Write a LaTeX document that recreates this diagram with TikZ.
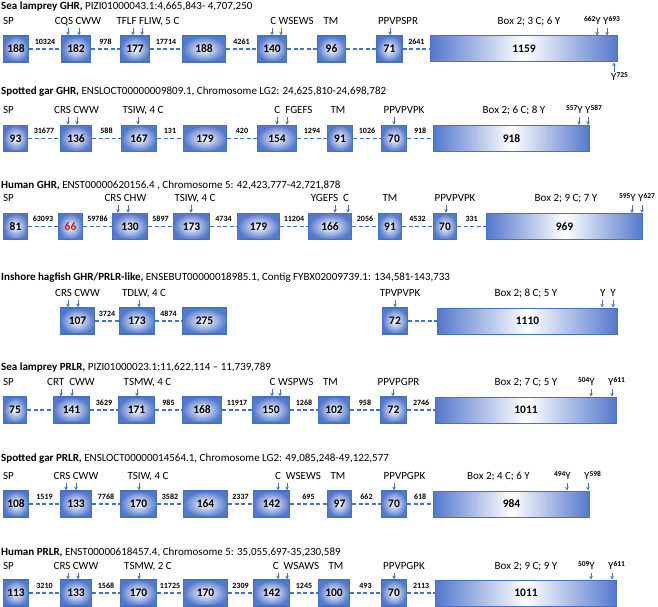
\documentclass[tikz,border=0pt]{standalone}
\usepackage{fontspec}
\setmainfont{Carlito}
\usetikzlibrary{arrows.meta}
\usetikzlibrary{positioning}
\definecolor{exblue}{RGB}{68,114,196}
\definecolor{exfill}{RGB}{84,120,204}
\newcommand{\ypos}[1]{\raisebox{3pt}{\fontsize{7.5}{8}\selectfont\bfseries #1}}

\begin{document}
\begin{tikzpicture}
  [x=1pt,y=-1pt,
  exon/.style={rectangle,draw=exblue,line width=1.5pt,inner color=white,outer color=exfill,minimum height=26,inner sep=0pt,font=\fontsize{11.5}{12}\selectfont\bfseries},
  bigexon/.style={rectangle,draw=exblue,line width=1pt,left color=exfill,right color=exfill,middle color=white,minimum height=26,inner sep=0pt,font=\fontsize{11.5}{12}\selectfont\bfseries},
  intron/.style={exblue,line width=1.3pt,dash pattern=on 4pt off 2.5pt},
  num/.style={above=4pt,inner sep=0pt,text=black,font=\fontsize{8}{8}\selectfont\bfseries},
  feat/.style={inner sep=0pt,text height=7pt,text depth=2pt,font=\fontsize{11}{12}\selectfont},
  title/.style={anchor=west,inner sep=0pt,text height=8pt,text depth=2pt,font=\fontsize{11}{12}\selectfont},
  pin/.style={exblue,line width=1pt,-{Stealth[length=3.5pt,width=3.5pt]}}]
  \useasboundingbox (0,0) rectangle (658,607);

  % Sea lamprey GHR
  \node[title] (t1) at (1,7) {\textbf{Sea lamprey GHR,} PIZI01000043.1:4,665,843- 4,707,250};
  \node[exon,minimum width=25] (11) at (16,49) {188};
  \node[exon,minimum width=29] (12) at (76,49) {182};
  \node[exon,minimum width=29] (13) at (135,49) {177};
  \node[exon,minimum width=43] (14) at (204,49) {188};
  \node[exon,minimum width=29] (15) at (272,49) {140};
  \node[exon,minimum width=28] (16) at (331.5,49) {96};
  \node[exon,minimum width=25] (17) at (389.5,49) {71};
  \node[bigexon,minimum width=187] (18) at (524,49) {1159};

  \node[feat,anchor=west] (f11) at (3,22) {SP};
  \node[feat] (f12) at (78,22) {CQS CWW};
  \node[feat] (f13) at (148,22) {TFLF FLIW, 5 C};
  \node[feat] (f15) at (292,22) {C WSEWS};
  \node[feat] (f16) at (331,22) {TM};
  \node[feat] (f17) at (398,22) {PPVPSPR};
  \node[feat] (f18) at (529,22) {Box 2; 3 C; 6 Y};
  \node[feat,anchor=east] (y18a) at (601,22) {\ypos{662}Y};
  \node[feat,anchor=west] (y18b) at (603,22) {Y\ypos{693}};
  \node[feat,anchor=west] (y18c) at (611,78) {Y\ypos{725}};

  \coordinate (a12) at (68,28); \coordinate (b12) at (79,28);
  \coordinate (a13) at (133,28); \coordinate (b13) at (142,28);
  \coordinate (a15) at (272,28); \coordinate (b15) at (281,28);
  \coordinate (a17) at (390,28);
  \coordinate (a18) at (597,28); \coordinate (b18) at (607,28);
  \coordinate (c18) at (614,72);
  \draw[pin] (a12) -- (a12 |- 12.north);
  \draw[pin] (b12) -- (b12 |- 12.north);
  \draw[pin] (a13) -- (a13 |- 13.north);
  \draw[pin] (b13) -- (b13 |- 13.north);
  \draw[pin] (a15) -- (a15 |- 15.north);
  \draw[pin] (b15) -- (b15 |- 15.north);
  \draw[pin] (a17) -- (a17 |- 17.north);
  \draw[pin] (a18) -- (a18 |- 18.north);
  \draw[pin] (b18) -- (b18 |- 18.north);
  \draw[pin] (c18) -- (c18 |- 18.south);

  \draw[intron] (11) -- node[num] (n11) {10324} (12);
  \draw[intron] (12) -- node[num] (n12) {978} (13);
  \draw[intron] (13) -- node[num] (n13) {17714} (14);
  \draw[intron] (14) -- node[num] (n14) {4261} (15);
  \draw[intron] (15) -- (16);
  \draw[intron] (16) -- (17);
  \draw[intron] (17) -- node[num] (n17) {2641} (18);

  % Spotted gar GHR
  \node[title] (t2) at (1,92) {\textbf{Spotted gar GHR,} ENSLOCT00000009809.1, Chromosome LG2: 24,625,810-24,698,782};
  \node[exon,minimum width=24] (21) at (15.5,138.5) {93};
  \node[exon,minimum width=31] (22) at (76,138.5) {136};
  \node[exon,minimum width=35] (23) at (139,138.5) {167};
  \node[exon,minimum width=43] (24) at (205,138.5) {179};
  \node[exon,minimum width=39] (25) at (277,138.5) {154};
  \node[exon,minimum width=25] (26) at (340,138.5) {91};
  \node[exon,minimum width=25] (27) at (394,138.5) {70};
  \node[bigexon,minimum width=156] (28) at (511.5,138.5) {918};

  \node[feat,anchor=west] (f21) at (3,111) {SP};
  \node[feat] (f22) at (76.5,111) {CRS CWW};
  \node[feat] (f23) at (143,111) {TSIW, 4 C};
  \node[feat] (f25) at (293.5,111) {C~~FGEFS};
  \node[feat] (f26) at (338,111) {TM};
  \node[feat] (f27) at (404,111) {PPVPVPK};
  \node[feat] (f28) at (514,111) {Box 2; 6 C; 8 Y};
  \node[feat,anchor=east] (y28a) at (583,111) {\ypos{557}Y};
  \node[feat,anchor=west] (y28b) at (585,111) {Y\ypos{587}};

  \coordinate (a22) at (68,117); \coordinate (b22) at (77,117);
  \coordinate (a23) at (138,117);
  \coordinate (a25) at (277,117); \coordinate (b25) at (287,117);
  \coordinate (a27) at (394,117);
  \coordinate (a28) at (579,117); \coordinate (b28) at (588,117);
  \draw[pin] (a22) -- (a22 |- 22.north);
  \draw[pin] (b22) -- (b22 |- 22.north);
  \draw[pin] (a23) -- (a23 |- 23.north);
  \draw[pin] (a25) -- (a25 |- 25.north);
  \draw[pin] (b25) -- (b25 |- 25.north);
  \draw[pin] (a27) -- (a27 |- 27.north);
  \draw[pin] (a28) -- (a28 |- 28.north);
  \draw[pin] (b28) -- (b28 |- 28.north);

  \draw[intron] (21) -- node[num] (n21) {31677} (22);
  \draw[intron] (22) -- node[num] (n22) {588} (23);
  \draw[intron] (23) -- node[num] (n23) {131} (24);
  \draw[intron] (24) -- node[num] (n24) {420} (25);
  \draw[intron] (25) -- node[num] (n25) {1294} (26);
  \draw[intron] (26) -- node[num] (n26) {1026} (27);
  \draw[intron] (27) -- node[num] (n27) {918} (28);

  % Human GHR
  \node[title] (t3) at (1,185) {\textbf{Human GHR,} ENST00000620156.4 , Chromosome 5: 42,423,777-42,721,878};
  \node[exon,minimum width=24] (31) at (15.5,226.5) {81};
  \node[exon,minimum width=24,text=red] (32) at (70.5,226.5) {66};
  \node[exon,minimum width=35] (33) at (130,226.5) {130};
  \node[exon,minimum width=36] (34) at (191.5,226.5) {173};
  \node[exon,minimum width=42] (35) at (258.5,226.5) {179};
  \node[exon,minimum width=43] (36) at (330,226.5) {166};
  \node[exon,minimum width=23] (37) at (390,226.5) {91};
  \node[exon,minimum width=23] (38) at (445,226.5) {70};
  \node[bigexon,minimum width=156] (39) at (564.5,226.5) {969};

  \node[feat,anchor=west] (f31) at (3,199) {SP};
  \node[feat] (f33) at (125.5,199) {CRS CHW};
  \node[feat] (f34) at (195,199) {TSIW, 4 C};
  \node[feat] (f36) at (330,199) {YGEFS~~C};
  \node[feat] (f37) at (390,199) {TM};
  \node[feat] (f38) at (455,199) {PPVPVPK};
  \node[feat] (f39) at (566,199) {Box 2; 9 C; 7 Y};
  \node[feat,anchor=east] (y39a) at (636,199) {\ypos{595}Y};
  \node[feat,anchor=west] (y39b) at (638,199) {Y\ypos{627}};

  \coordinate (a33) at (118,205); \coordinate (b33) at (128,205);
  \coordinate (a34) at (191,205);
  \coordinate (a36) at (335,205); \coordinate (b36) at (348,205);
  \coordinate (a38) at (446,205);
  \coordinate (a39) at (632,205); \coordinate (b39) at (642,205);
  \draw[pin] (a33) -- (a33 |- 33.north);
  \draw[pin] (b33) -- (b33 |- 33.north);
  \draw[pin] (a34) -- (a34 |- 34.north);
  \draw[pin] (a36) -- (a36 |- 36.north);
  \draw[pin] (b36) -- (b36 |- 36.north);
  \draw[pin] (a38) -- (a38 |- 38.north);
  \draw[pin] (a39) -- (a39 |- 39.north);
  \draw[pin] (b39) -- (b39 |- 39.north);

  \draw[intron] (31) -- node[num] (n31) {63093} (32);
  \draw[intron] (32) -- node[num] (n32) {59786} (33);
  \draw[intron] (33) -- node[num] (n33) {5897} (34);
  \draw[intron] (34) -- node[num] (n34) {4734} (35);
  \draw[intron] (35) -- node[num] (n35) {11204} (36);
  \draw[intron] (36) -- node[num] (n36) {2056} (37);
  \draw[intron] (37) -- node[num] (n37) {4532} (38);
  \draw[intron] (38) -- node[num] (n38) {331} (39);

  % Inshore hagfish GHR/PRLR-like
  \node[title] (t4) at (1,277) {\textbf{Inshore hagfish GHR/PRLR-like,} ENSEBUT00000018985.1, Contig FYBX02009739.1: 134,581-143,733};
  \node[exon,minimum width=34] (41) at (77.5,321) {107};
  \node[exon,minimum width=35] (42) at (137,321) {173};
  \node[exon,minimum width=44] (43) at (204.5,321) {275};
  \node[exon,minimum width=25] (44) at (395,321) {72};
  \node[bigexon,minimum width=180] (45) at (527.5,321) {1110};

  \node[feat] (f41) at (77.5,294) {CRS CWW};
  \node[feat] (f42) at (144,294) {TDLW, 4 C};
  \node[feat] (f44) at (400,294) {TPVPVPK};
  \node[feat] (f45) at (526,294) {Box 2; 8 C; 5 Y};
  \node[feat] (y45) at (608,294) {Y~~Y};

  \coordinate (a41) at (68,300); \coordinate (b41) at (78,300);
  \coordinate (a42) at (139,300);
  \coordinate (a44) at (395,300);
  \coordinate (a45) at (602,300); \coordinate (b45) at (613,300);
  \draw[pin] (a41) -- (a41 |- 41.north);
  \draw[pin] (b41) -- (b41 |- 41.north);
  \draw[pin] (a42) -- (a42 |- 42.north);
  \draw[pin] (a44) -- (a44 |- 44.north);
  \draw[pin] (a45) -- (a45 |- 45.north);
  \draw[pin] (b45) -- (b45 |- 45.north);

  \draw[intron] (41) -- node[num] (n41) {3724} (42);
  \draw[intron] (42) -- node[num] (n42) {4874} (43);
  \draw[intron] (44) -- (45);

  % Sea lamprey PRLR
  \node[title] (t5) at (1,367) {\textbf{Sea lamprey PRLR,} PIZI01000023.1:11,622,114 -- 11,739,789};
  \node[exon,minimum width=23] (51) at (15,410) {75};
  \node[exon,minimum width=36] (52) at (71.5,410) {141};
  \node[exon,minimum width=36] (53) at (136.5,410) {171};
  \node[exon,minimum width=39] (54) at (202,410) {168};
  \node[exon,minimum width=37] (55) at (271,410) {150};
  \node[exon,minimum width=31] (56) at (334,410) {102};
  \node[exon,minimum width=26] (57) at (393.5,410) {72};
  \node[bigexon,minimum width=181] (58) at (526,410) {1011};

  \node[feat,anchor=west] (f51) at (3,383) {SP};
  \node[feat] (f52) at (71,383) {CRT~~CWW};
  \node[feat] (f53) at (147.5,383) {TSMW, 4 C};
  \node[feat] (f55) at (291.5,383) {C WSPWS};
  \node[feat] (f56) at (330.5,383) {TM};
  \node[feat] (f57) at (398.5,383) {PPVPGPR};
  \node[feat] (f58) at (526,383) {Box 2; 7 C; 5 Y};
  \node[feat,anchor=east] (y58a) at (595,383) {\ypos{504}Y};
  \node[feat,anchor=west] (y58b) at (608,383) {Y\ypos{611}};

  \coordinate (a52) at (61,389); \coordinate (b52) at (72,389);
  \coordinate (a53) at (137,389);
  \coordinate (a55) at (272,389); \coordinate (b55) at (280,389);
  \coordinate (a57) at (393,389);
  \coordinate (a58) at (591,389); \coordinate (b58) at (612,389);
  \draw[pin] (a52) -- (a52 |- 52.north);
  \draw[pin] (b52) -- (b52 |- 52.north);
  \draw[pin] (a53) -- (a53 |- 53.north);
  \draw[pin] (a55) -- (a55 |- 55.north);
  \draw[pin] (b55) -- (b55 |- 55.north);
  \draw[pin] (a57) -- (a57 |- 57.north);
  \draw[pin] (a58) -- (a58 |- 58.north);
  \draw[pin] (b58) -- (b58 |- 58.north);

  \draw[intron] (51) -- (52);
  \draw[intron] (52) -- node[num] (n52) {3629} (53);
  \draw[intron] (53) -- node[num] (n53) {985} (54);
  \draw[intron] (54) -- node[num] (n54) {11917} (55);
  \draw[intron] (55) -- node[num] (n55) {1268} (56);
  \draw[intron] (56) -- node[num] (n56) {958} (57);
  \draw[intron] (57) -- node[num] (n57) {2746} (58);

  % Spotted gar PRLR
  \node[title] (t6) at (1,458) {\textbf{Spotted gar PRLR,} ENSLOCT00000014564.1, Chromosome LG2: 49,085,248-49,122,577};
  \node[exon,minimum width=25] (61) at (16,504) {108};
  \node[exon,minimum width=31] (62) at (76,504) {133};
  \node[exon,minimum width=36] (63) at (138.5,504) {170};
  \node[exon,minimum width=44] (64) at (205.5,504) {164};
  \node[exon,minimum width=36] (65) at (271.5,504) {142};
  \node[exon,minimum width=24] (66) at (339.5,504) {97};
  \node[exon,minimum width=25] (67) at (394,504) {70};
  \node[bigexon,minimum width=156] (68) at (511.5,504) {984};

  \node[feat,anchor=west] (f61) at (3,477) {SP};
  \node[feat] (f62) at (76,477) {CRS CWW};
  \node[feat] (f63) at (148,477) {TSIW, 4 C};
  \node[feat] (f65) at (298,477) {C~~WSEWS};
  \node[feat] (f66) at (338,477) {TM};
  \node[feat] (f67) at (404.5,477) {PPVPGPK};
  \node[feat] (f68) at (498.5,477) {Box 2; 4 C; 6 Y};
  \node[feat,anchor=east] (y68a) at (571,477) {\ypos{494}Y};
  \node[feat,anchor=west] (y68b) at (584,477) {Y\ypos{598}};

  \coordinate (a62) at (66,483); \coordinate (b62) at (76,483);
  \coordinate (a63) at (139,483);
  \coordinate (a65) at (278,483); \coordinate (b65) at (287,483);
  \coordinate (a67) at (394,483);
  \coordinate (a68) at (567,483); \coordinate (b68) at (588,483);
  \draw[pin] (a62) -- (a62 |- 62.north);
  \draw[pin] (b62) -- (b62 |- 62.north);
  \draw[pin] (a63) -- (a63 |- 63.north);
  \draw[pin] (a65) -- (a65 |- 65.north);
  \draw[pin] (b65) -- (b65 |- 65.north);
  \draw[pin] (a67) -- (a67 |- 67.north);
  \draw[pin] (a68) -- (a68 |- 68.north);
  \draw[pin] (b68) -- (b68 |- 68.north);

  \draw[intron] (61) -- node[num] (n61) {1519} (62);
  \draw[intron] (62) -- node[num] (n62) {7768} (63);
  \draw[intron] (63) -- node[num] (n63) {3582} (64);
  \draw[intron] (64) -- node[num] (n64) {2337} (65);
  \draw[intron] (65) -- node[num] (n65) {695} (66);
  \draw[intron] (66) -- node[num] (n66) {662} (67);
  \draw[intron] (67) -- node[num] (n67) {618} (68);

  % Human PRLR
  \node[title] (t7) at (1,552) {\textbf{Human PRLR,} ENST00000618457.4, Chromosome 5: 35,055,697-35,230,589};
  \node[exon,minimum width=25] (71) at (16,593) {113};
  \node[exon,minimum width=31] (72) at (76,593) {133};
  \node[exon,minimum width=36] (73) at (138.5,593) {170};
  \node[exon,minimum width=44] (74) at (205.5,593) {170};
  \node[exon,minimum width=36] (75) at (271.5,593) {142};
  \node[exon,minimum width=31] (76) at (334,593) {100};
  \node[exon,minimum width=25] (77) at (394,593) {70};
  \node[bigexon,minimum width=181] (78) at (526,593) {1011};

  \node[feat,anchor=west] (f71) at (3,567) {SP};
  \node[feat] (f72) at (76,567) {CRS CWW};
  \node[feat] (f73) at (148,567) {TSMW, 2 C};
  \node[feat] (f75) at (296,567) {C~~WSAWS};
  \node[feat] (f76) at (336,567) {TM};
  \node[feat] (f77) at (404,567) {PPVPGPK};
  \node[feat] (f78) at (526,567) {Box 2; 9 C; 9 Y};
  \node[feat,anchor=east] (y78a) at (595,567) {\ypos{509}Y};
  \node[feat,anchor=west] (y78b) at (608,567) {Y\ypos{611}};

  \coordinate (a72) at (68,573); \coordinate (b72) at (78,573);
  \coordinate (a73) at (139,573);
  \coordinate (a75) at (278,573); \coordinate (b75) at (287,573);
  \coordinate (a77) at (394,573);
  \coordinate (a78) at (591,573); \coordinate (b78) at (612,573);
  \draw[pin] (a72) -- (a72 |- 72.north);
  \draw[pin] (b72) -- (b72 |- 72.north);
  \draw[pin] (a73) -- (a73 |- 73.north);
  \draw[pin] (a75) -- (a75 |- 75.north);
  \draw[pin] (b75) -- (b75 |- 75.north);
  \draw[pin] (a77) -- (a77 |- 77.north);
  \draw[pin] (a78) -- (a78 |- 78.north);
  \draw[pin] (b78) -- (b78 |- 78.north);

  \draw[intron] (71) -- node[num] (n71) {3210} (72);
  \draw[intron] (72) -- node[num] (n72) {1568} (73);
  \draw[intron] (73) -- node[num] (n73) {11725} (74);
  \draw[intron] (74) -- node[num] (n74) {2309} (75);
  \draw[intron] (75) -- node[num] (n75) {1245} (76);
  \draw[intron] (76) -- node[num] (n76) {493} (77);
  \draw[intron] (77) -- node[num] (n77) {2113} (78);
\end{tikzpicture}
\end{document}
